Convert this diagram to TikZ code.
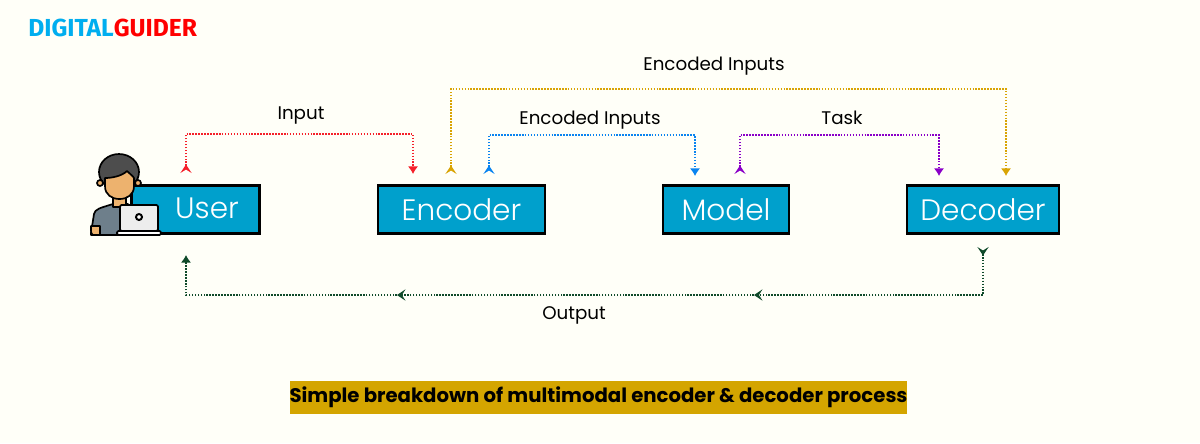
\documentclass[tikz,border=0pt]{standalone}
\usepackage{fontspec}
\usepackage{tikz}
\usetikzlibrary{arrows.meta}
\setmainfont{Poppins}
\newfontfamily\lightfont{Poppins Light}
\newfontfamily\logofont{Fira Sans}
\definecolor{pagebg}{HTML}{FFFFF8}
\definecolor{boxblue}{HTML}{00A0CC}
\definecolor{capgold}{HTML}{D4A500}
\definecolor{inred}{HTML}{F5202A}
\definecolor{encgold}{HTML}{D9A404}
\definecolor{encblue}{HTML}{0A84F0}
\definecolor{taskpurple}{HTML}{8A00C8}
\definecolor{outgreen}{HTML}{0F4A2A}
\definecolor{logoblue}{HTML}{00AEEF}
\definecolor{logored}{HTML}{FF0000}
\definecolor{skin}{HTML}{EDB26E}
\definecolor{hair}{HTML}{4D4D4D}
\definecolor{shirt}{HTML}{6E7F8B}
\tikzset{
    boxnode/.style={draw=black, line width=1.5pt, fill=boxblue, minimum height=1.2cm, text=white, font=\lightfont\fontsize{21}{24}\selectfont},
    boxtext/.style={text=white, font=\lightfont\fontsize{21}{24}\selectfont},
    flowlabel/.style={text=black, font=\fontsize{13}{16}\selectfont},
    flowline/.style={line width=1.1pt, dash pattern=on 1.1pt off 1pt},
    starttip/.style={{Stealth[reversed, length=6pt, width=8pt, inset=2.5pt]}-{Latex[length=5.5pt, width=7.5pt]}},
    midtip/.style={-{Stealth[length=6pt, width=8pt, inset=2.5pt]}},
    icon/.style={draw=black, line width=1.2pt, line join=round}
}
\begin{document}
\begin{tikzpicture}[x=0.025cm, y=-0.025cm]
    \fill[pagebg] (0,0) rectangle (1200,443);
    \useasboundingbox (0,0) rectangle (1200,443);

    \node[anchor=west, inner sep=0pt, font=\logofont\bfseries\fontsize{17.5}{20}\selectfont] (logo) at (28,28) {\textcolor{logoblue}{DIGITAL}\textcolor{logored}{GUIDER}};

    \node[boxnode, minimum width=3.2cm] (user) at (195.5,209.5) {};
    \node[boxtext] (usertext) at (207,208) {User};
    \node[boxnode, minimum width=4.16cm] (encoder) at (461.5,209.5) {Encoder};
    \node[boxnode, minimum width=3.15cm] (model) at (726,209.5) {Model};
    \node[boxnode, minimum width=3.8cm] (decoder) at (983,209.5) {Decoder};

    \coordinate (inS) at (186,173);
    \coordinate (inE) at (413,174);
    \coordinate (topS) at (451,174);
    \coordinate (topE) at (1006,176);
    \coordinate (encS) at (489,174);
    \coordinate (encE) at (695,176);
    \coordinate (taskS) at (740,174);
    \coordinate (taskE) at (939,176);
    \coordinate (outS) at (983,247);
    \coordinate (outA) at (754,295);
    \coordinate (outB) at (397,295);
    \coordinate (outE) at (186,255);

    \draw[flowline, inred, starttip] (inS) -- ++(0,-39) -| (inE);
    \draw[flowline, encgold, starttip] (topS) -- ++(0,-85) -| (topE);
    \draw[flowline, encblue, starttip] (encS) -- ++(0,-39) -| (encE);
    \draw[flowline, taskpurple, starttip] (taskS) -- ++(0,-39) -| (taskE);
    \draw[flowline, outgreen, {Stealth[reversed, length=6pt, width=8pt, inset=2.5pt]}-{Stealth[length=6pt, width=8pt, inset=2.5pt]}] (outS) |- (outA);
    \draw[flowline, outgreen, midtip] (outA) -- (outB);
    \draw[flowline, outgreen, -{Latex[length=5.5pt, width=7.5pt]}] (outB) -| (outE);

    \node[flowlabel] (inputlabel) at (301,115) {Input};
    \node[flowlabel] (toplabel) at (714,66) {Encoded Inputs};
    \node[flowlabel] (enclabel) at (590,120) {Encoded Inputs};
    \node[flowlabel] (tasklabel) at (842,118) {Task};
    \node[flowlabel] (outlabel) at (574,315) {Output};

    \node[fill=capgold, minimum width=15.43cm, minimum height=0.825cm, inner sep=0pt, font=\fontsize{14}{16}\selectfont\bfseries] (caption) at (598.5,397.5) {Simple breakdown of multimodal encoder \& decoder process};

    \draw[icon, fill=hair] (119,172) ellipse (20 and 18);
    \draw[icon, fill=skin] (100,183) circle (3);
    \draw[icon, fill=skin] (138,183) circle (3);
    \draw[icon, fill=shirt] (91,233) -- (94,214) .. controls (95,209) and (100,208) .. (113,204) -- (128,204) -- (128,235) -- (91,235) -- cycle;
    \draw[icon, fill=skin] (91,226) -- (100,226) -- (100,235) -- (93,235) .. controls (91,235) and (91,233) .. (91,226) -- cycle;
    \draw[icon, fill=skin] (113,196) rectangle (126,207);
    \draw[icon, fill=skin] (105,178) .. controls (112,178) and (122,176) .. (127,171) .. controls (130,174) and (133,176) .. (134,178) -- (134,186) .. controls (134,195) and (127,199) .. (119.5,199) .. controls (112,199) and (105,195) .. (105,186) -- cycle;
    \draw[icon, fill=black!7, rounded corners=1pt] (120,205) rectangle (158,231);
    \draw[icon, fill=white, rounded corners=1pt] (117,231) rectangle (161,235);
    \draw[black, line width=1.4pt, fill=white] (139,217) circle (3);
\end{tikzpicture}
\end{document}
